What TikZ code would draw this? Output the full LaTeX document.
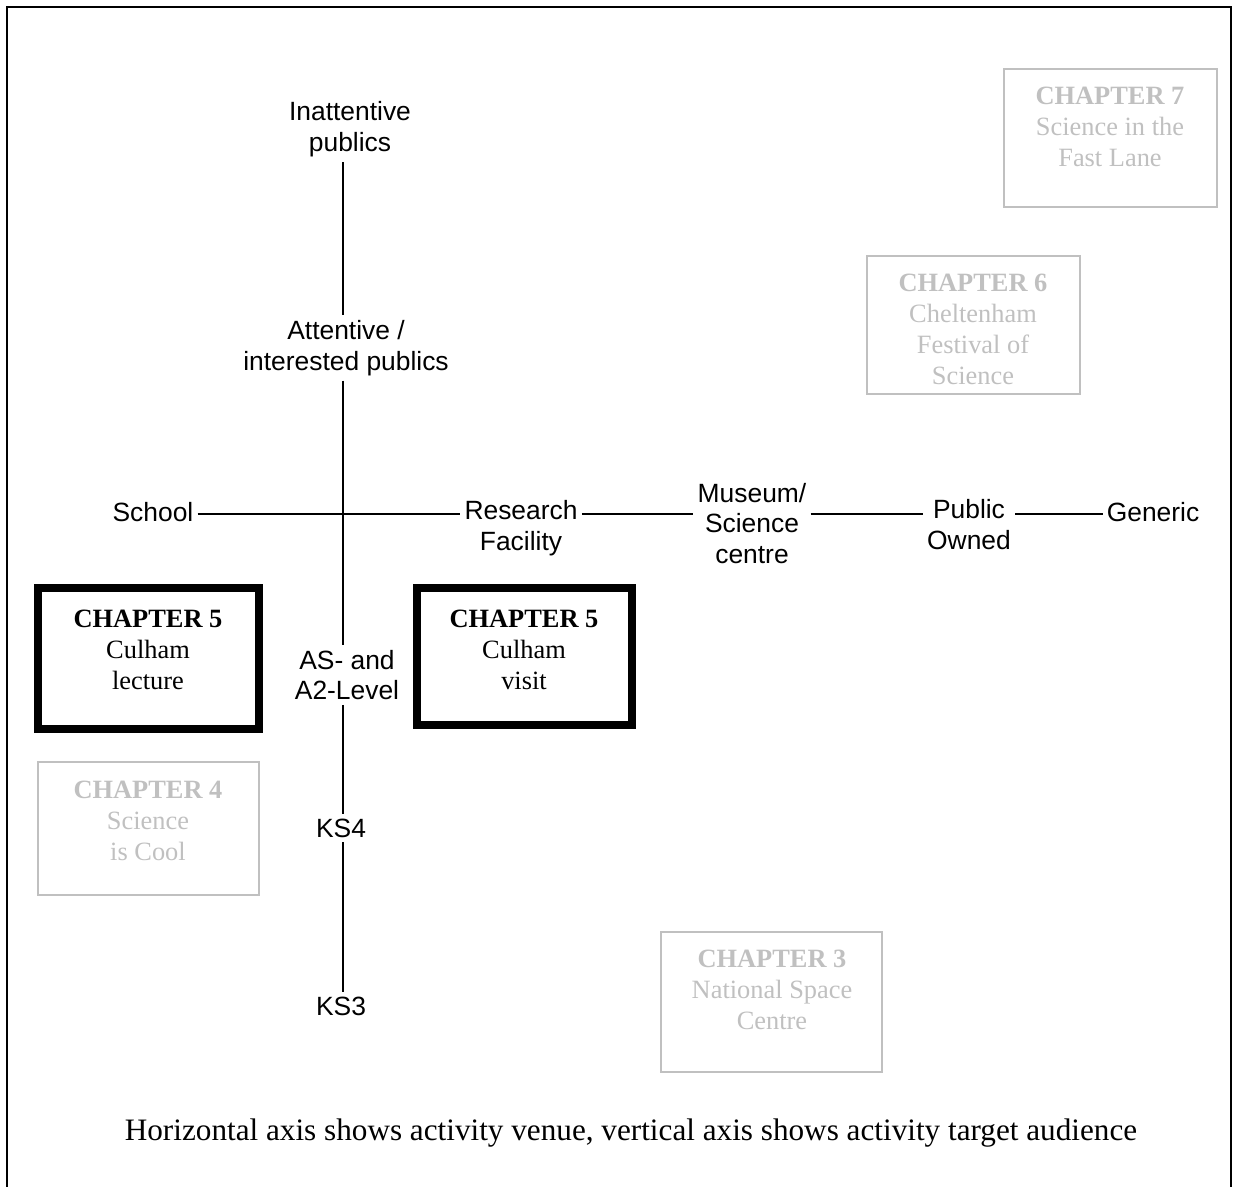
\documentclass[tikz,border=0pt]{standalone}
\usepackage{fontspec}
\setmainfont{Liberation Serif}
\newfontfamily\arialf{Liberation Sans}
\definecolor{lightgr}{HTML}{C0C0C0}
\begin{document}
\begin{tikzpicture}[x=0.75pt,y=-0.75pt,
  axislabel/.style={font=\arialf\fontsize{19.8}{23}\selectfont, align=center, inner xsep=3pt, inner ysep=3.5pt},
  axisline/.style={line width=1.5pt},
  chtext/.style={font=\fontsize{19.8}{23.3}\selectfont, align=center, inner sep=0pt},
  boldbox/.style={draw=black, line width=6pt, inner sep=0pt},
  greybox/.style={draw=lightgr, line width=1.5pt, inner sep=0pt},
  greytext/.style={chtext, text=lightgr},
  frameline/.style={line width=1.8pt}
]
\useasboundingbox (0,0) rectangle (1236,1187);
% outer frame (open at the bottom)
\coordinate (fbl) at (7,1190);
\coordinate (ftl) at (7,7);
\coordinate (ftr) at (1231,7);
\coordinate (fbr) at (1231,1190);
\draw[frameline] (fbl) -- (ftl) -- (ftr) -- (fbr);

% axis labels
\node[axislabel] (inatt)   at (350,129.5)  {Inattentive\\publics};
\node[axislabel] (attent)  at (346,348) {Attentive /\\interested publics};
\node[axislabel] (aslev)   at (347,675)  {AS- and\\A2-Level};
\node[axislabel] (ks4)     at (341,828)  {KS4};
\node[axislabel] (ks3)     at (341,1006) {KS3};
\node[axislabel] (school)  at (153,512.5)  {School};
\node[axislabel] (research) at (521,528) {Research\\Facility};
\node[axislabel] (museum)  at (752,523.5) {Museum/\\Science\\centre};
\node[axislabel] (public)  at (969,524.5) {Public\\Owned};
\node[axislabel] (generic) at (1153,512.5) {Generic};

\coordinate (ax) at (343,0);
\coordinate (hy) at (0,514);

% vertical axis
\draw[axisline] (inatt.south -| ax) -- (attent.north -| ax);
\draw[axisline] (attent.south -| ax) -- (aslev.north -| ax);
\draw[axisline] (aslev.south -| ax) -- (ks4.north -| ax);
\draw[axisline] (ks4.south -| ax) -- (ks3.north -| ax);

% horizontal axis
\draw[axisline] (school.east |- hy) -- (research.west |- hy);
\draw[axisline] (research.east |- hy) -- (museum.west |- hy);
\draw[axisline] (museum.east |- hy) -- (public.west |- hy);
\draw[axisline] (public.east |- hy) -- (generic.west |- hy);

% chapter boxes
\node[boldbox, minimum width=165.75pt, minimum height=105.75pt] (c5a) at (148.5,658.5) {};
\node[chtext] (c5at) at (148,650) {\textbf{CHAPTER 5}\\Culham\\lecture};

\node[boldbox, minimum width=161.25pt, minimum height=102.75pt] (c5b) at (524.5,656.5) {};
\node[chtext] (c5bt) at (524,650) {\textbf{CHAPTER 5}\\Culham\\visit};

\node[greybox, minimum width=165.75pt, minimum height=99.75pt] (c4) at (148.5,828.5) {};
\node[greytext] (c4t) at (148,820.5) {\textbf{CHAPTER 4}\\Science\\is Cool};

\node[greybox, minimum width=165.75pt, minimum height=105pt] (c3) at (771.5,1002) {};
\node[greytext] (c3t) at (772,990) {\textbf{CHAPTER 3}\\National Space\\Centre};

\node[greybox, minimum width=159.75pt, minimum height=103.5pt] (c6) at (973.5,325) {};
\node[greytext] (c6t) at (973,329.25) {\textbf{CHAPTER 6}\\Cheltenham\\Festival of\\Science};

\node[greybox, minimum width=159.75pt, minimum height=103.5pt] (c7) at (1110.5,138) {};
\node[greytext] (c7t) at (1110,126.5) {\textbf{CHAPTER 7}\\Science in the\\Fast Lane};

% caption
\node[font=\fontsize{23.4}{27}\selectfont, inner sep=0pt] (caption) at (631,1133)
  {Horizontal axis shows activity venue, vertical axis shows activity target audience};
\end{tikzpicture}
\end{document}
